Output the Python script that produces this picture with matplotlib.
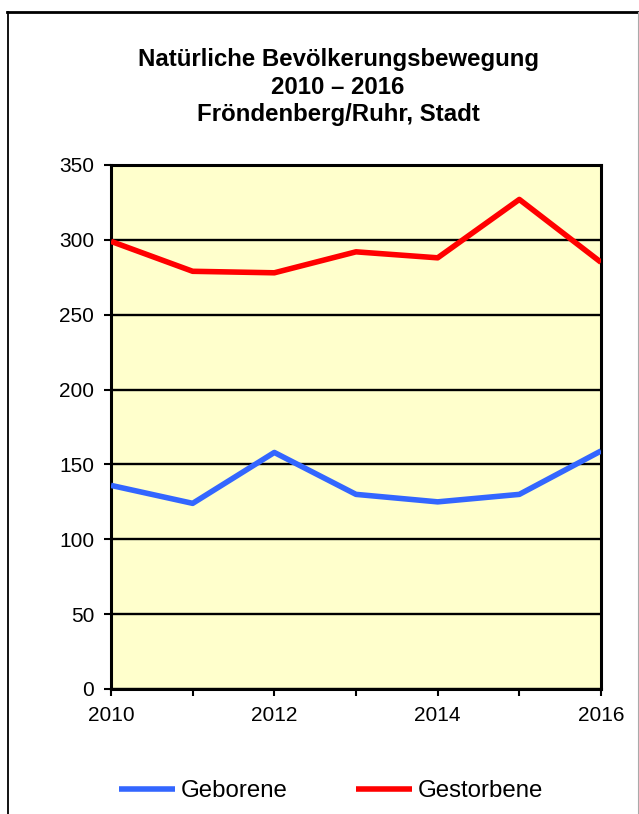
import matplotlib
matplotlib.use("Agg")
import matplotlib.pyplot as plt
from matplotlib.lines import Line2D

# =============================
# Data
# =============================
years = [2010, 2011, 2012, 2013, 2014, 2015, 2016]
geborene = [136, 124, 158, 130, 125, 130, 159]
gestorbene = [299, 279, 278, 292, 288, 327, 285]
year_labels = ["2010", "", "2012", "", "2014", "", "2016"]
y_ticks = [0, 50, 100, 150, 200, 250, 300, 350]
title_lines = ["Natürliche Bevölkerungsbewegung", "2010 – 2016", "Fröndenberg/Ruhr, Stadt"]

plt.rcParams["font.family"] = ["Liberation Sans", "DejaVu Sans"]

W, H = 639, 814
fig = plt.figure(figsize=(W / 100, H / 100), dpi=100)
fig.patch.set_facecolor("white")

# plot area in pixels: left 111, right 601, top 165, bottom 689
ax = fig.add_axes([111 / W, 1 - 689 / H, (601 - 111) / W, (689 - 165) / H])
ax.set_facecolor("#FFFFCC")

ax.plot(years, geborene, color="#3366FF", lw=4, solid_capstyle="butt", label="Geborene", zorder=3)
ax.plot(years, gestorbene, color="#FF0000", lw=4, solid_capstyle="butt", label="Gestorbene", zorder=3)

ax.set_xlim(2010, 2016)
ax.set_ylim(0, 350)
ax.set_xticks(years)
ax.set_xticklabels(year_labels)
ax.set_yticks(y_ticks)
ax.yaxis.grid(True, color="black", lw=1.7)
ax.set_axisbelow(True)
for s in ax.spines.values():
    s.set_linewidth(2.2)
    s.set_color("black")
ax.tick_params(axis="both", direction="out", length=5, width=1.5, labelsize=15, colors="black")
ax.tick_params(axis="y", pad=7)
ax.tick_params(axis="x", pad=7)

# title, three lines
baselines = [66, 93.5, 121]
for txt, yb in zip(title_lines, baselines):
    fig.text(338 / W, 1 - yb / H, txt, ha="center", va="baseline",
             fontsize=17.3, fontweight="bold")

# legend
fig.legend(loc="center", bbox_to_anchor=(0.518, 1 - 791 / H), ncol=2, frameon=False,
           fontsize=17.3, handlelength=2.35, handletextpad=0.22, columnspacing=2.85)

# outer frame of the chart area
fig.add_artist(Line2D([7 / W, 1], [1 - 12 / H, 1 - 12 / H], color="black", lw=2, transform=fig.transFigure))
fig.add_artist(Line2D([7.5 / W, 7.5 / W], [0, 1 - 12 / H], color="black", lw=1.3, transform=fig.transFigure))
fig.add_artist(Line2D([637.5 / W, 637.5 / W], [0, 1 - 12 / H], color="#AAAAAA", lw=0.8, transform=fig.transFigure))

fig.savefig("out.png", dpi=100)
plt.close(fig)
